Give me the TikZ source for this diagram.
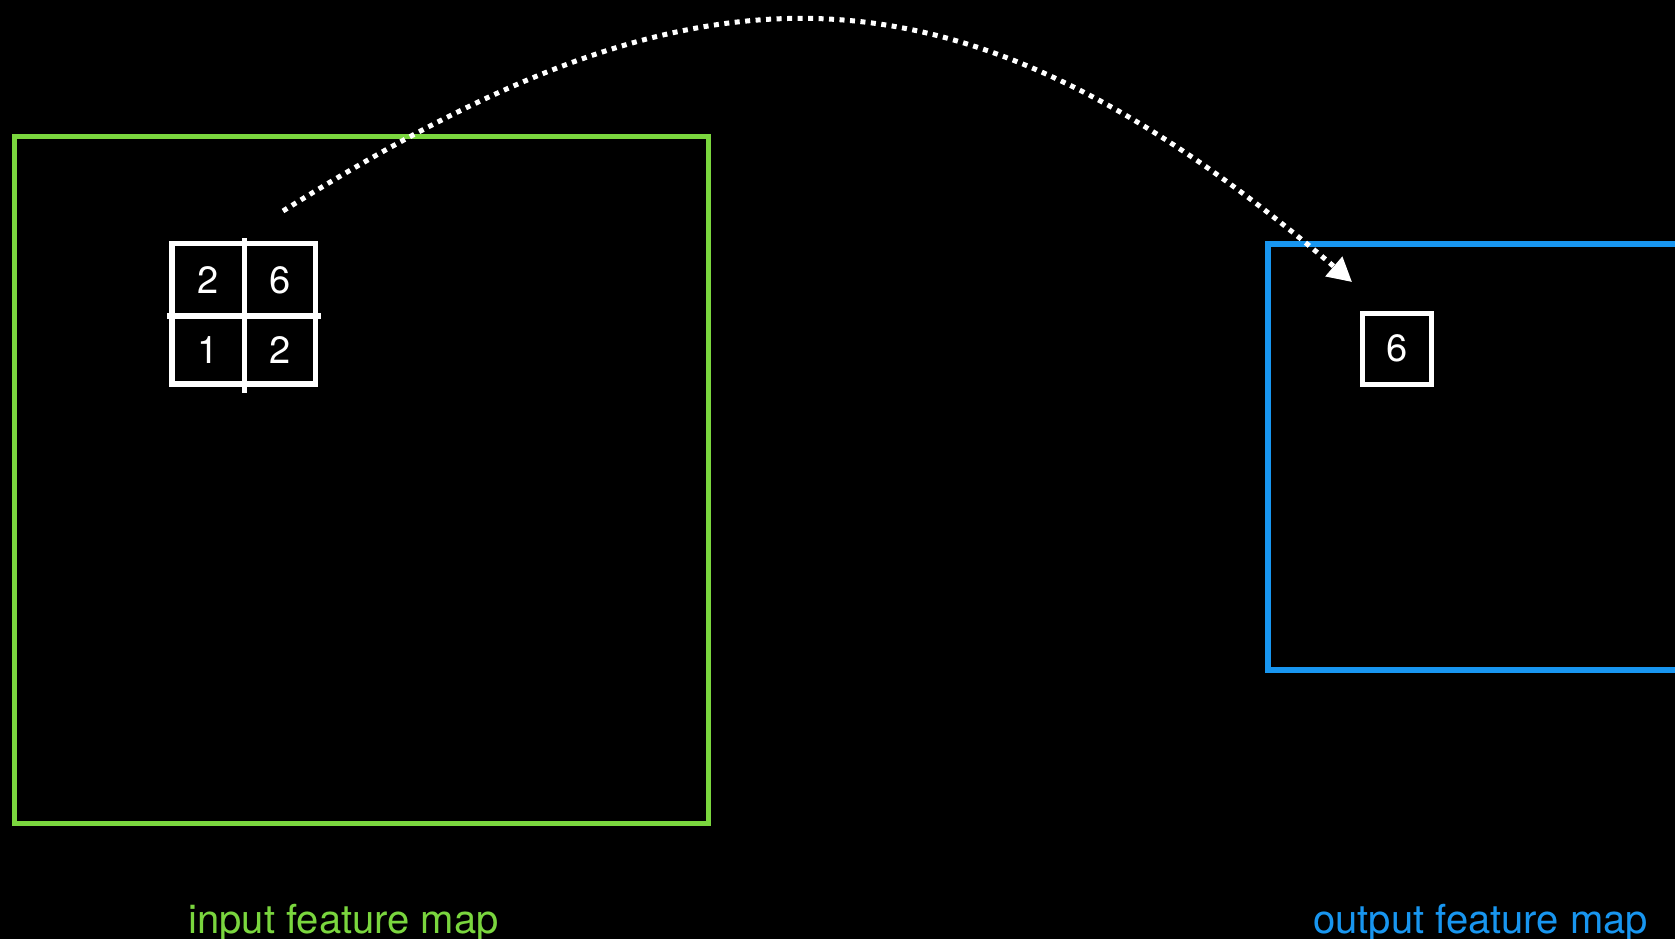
\documentclass[tikz,border=0pt]{standalone}
\usepackage{fontspec}
\setmainfont{TeX Gyre Heros}
\usetikzlibrary{arrows.meta}
\definecolor{mapgreen}{RGB}{122,214,62}
\definecolor{mapblue}{RGB}{24,150,240}
\tikzset{
  mapbox/.style={draw, line width=5.2pt, inner sep=0pt},
  gridline/.style={draw=white, line width=5.3pt},
  cellnum/.style={text=white, font=\fontsize{38}{38}\selectfont, inner sep=0pt},
  maplabel/.style={font=\fontsize{40}{40}\selectfont, inner sep=0pt, anchor=base west},
  flow/.style={draw=white, line width=5pt, dash pattern=on 5pt off 5.5pt,
    -{Triangle[length=24pt,width=25pt]}}
}
\begin{document}
\begin{tikzpicture}[x=1pt,y=-1pt]
\fill[black] (0,0) rectangle (1675,939);
\useasboundingbox (0,0) rectangle (1675,939);
% input feature map
\node[mapbox, draw=mapgreen, minimum width=694pt, minimum height=687pt] (inmap) at (361.3,480.1) {};
% output feature map (open to the right)
\draw[mapblue, line width=5.2pt] (1700,244) -- (1268,244) -- (1268,670) -- (1700,670);
% pooling window
\node[cellnum] (c11) at (208,280) {2};
\node[cellnum] (c12) at (280,280) {6};
\node[cellnum] (c21) at (208,350) {1};
\node[cellnum] (c22) at (280,350) {2};
\draw[gridline] (172,243.5) rectangle (315.5,384);
\draw[gridline] (244.5,238) -- (244.5,393);
\draw[gridline] (167,316) -- (321,316);
% output cell
\node[draw=white, line width=5pt, minimum width=69.5pt, minimum height=71pt, inner sep=0pt,
  text=white, font=\fontsize{38}{38}\selectfont] (out) at (1397.2,348.5) {6};
% arrow
\coordinate (src) at (283,211);
\coordinate (dst) at (1352,282);
\draw[flow] (src) .. controls (690,-44) and (945,-66) .. (dst);
% labels
\node[maplabel, text=mapgreen] (inlabel) at (188,933) {input feature map};
\node[maplabel, text=mapblue] (outlabel) at (1313,933) {output feature map};
\end{tikzpicture}
\end{document}
